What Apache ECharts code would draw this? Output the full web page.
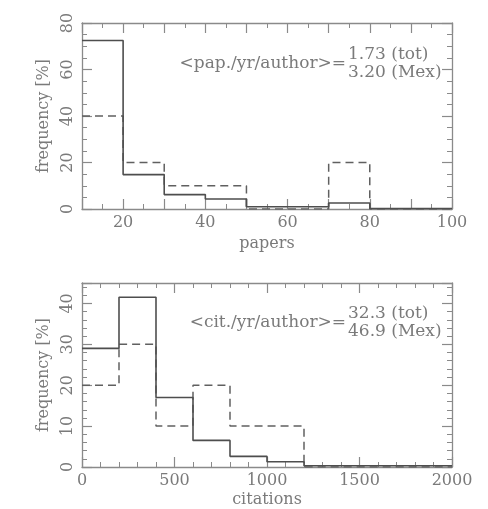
<!DOCTYPE html>
<html>
<head>
<meta charset="utf-8">
<script src="https://cdn.jsdelivr.net/npm/echarts@6/dist/echarts.min.js"></script>
<style>
html,body{margin:0;padding:0;background:#fff;}
#chart{width:488px;height:509px;}
</style>
</head>
<body>
<div id="chart"></div>
<script>
// ---- data ----
const papersEdges = [10, 20, 30, 40, 50, 60, 70, 80, 90, 100];
const papersTot   = [72.5, 14.8, 6.2, 4.3, 1.0, 1.0, 2.6, 0.2, 0.2];
const papersMex   = [40, 20, 10, 10, 0, 0, 20, 0, 0];
const papersTicks = [20, 40, 60, 80, 100];

const citEdges = [0, 200, 400, 600, 800, 1000, 1200, 1400, 1600, 1800, 2000];
const citTot   = [29, 41.5, 17, 6.5, 2.6, 1.3, 0.3, 0.3, 0.3, 0.3];
const citMex   = [20, 30, 10, 20, 10, 10, 0, 0, 0, 0];
const citTicks = [0, 500, 1000, 1500, 2000];

const papersNote = ['<pap./yr/author>=', '1.73 (tot)', '3.20 (Mex)'];
const citNote    = ['<cit./yr/author>=', '32.3 (tot)', '46.9 (Mex)'];

// ---- helpers ----
function steps(edges, vals) {
  const pts = [];
  for (let i = 0; i < vals.length; i++) pts.push([edges[i], vals[i]]);
  pts.push([edges[edges.length - 1], vals[vals.length - 1]]);
  return pts;
}
const FONT = 'DejaVu Serif';
const AXC = '#8a8a8a';
const TXT = '#7a7a7a';

function baseAxis(grid, min, max, interval, minorSplit) {
  return {
    type: 'value', gridIndex: grid, min: min, max: max, interval: interval,
    splitLine: {show: false},
    axisLine: {show: true, onZero: false, lineStyle: {color: AXC, width: 1.3}},
    axisTick: {show: true, inside: true, length: 10, lineStyle: {color: AXC, width: 1.2}},
    minorTick: {show: true, splitNumber: minorSplit, length: 5, lineStyle: {color: AXC, width: 1}},
    axisLabel: {show: false}
  };
}
function xAxes(grid, min, max, interval, minorSplit, labels, name, nameGap) {
  const bottom = Object.assign(baseAxis(grid, min, max, interval, minorSplit), {
    position: 'bottom',
    name: name, nameLocation: 'middle', nameGap: nameGap,
    nameTextStyle: {fontFamily: FONT, fontSize: 16, color: TXT},
    axisLabel: {show: true, fontFamily: FONT, fontSize: 16, color: TXT, margin: 6,
      formatter: function (v) { return labels.indexOf(v) >= 0 ? String(v) : ''; }}
  });
  const top = Object.assign(baseAxis(grid, min, max, interval, minorSplit), {position: 'top'});
  return [bottom, top];
}
function yAxes(grid, min, max, interval, minorSplit, name) {
  const left = Object.assign(baseAxis(grid, min, max, interval, minorSplit), {
    position: 'left',
    name: name, nameLocation: 'middle', nameGap: 26, nameRotate: 90,
    nameTextStyle: {fontFamily: FONT, fontSize: 16, color: TXT},
    axisLabel: {show: true, rotate: 90, fontFamily: FONT, fontSize: 16, color: TXT, margin: 6,
      showMaxLabel: max % interval === 0}
  });
  const right = Object.assign(baseAxis(grid, min, max, interval, minorSplit), {position: 'right'});
  return [left, right];
}

const xa0 = xAxes(0, 10, 100, 10, 2, papersTicks, 'papers', 27);
const xa1 = xAxes(1, 0, 2000, 500, 5, citTicks, 'citations', 25);
const ya0 = yAxes(0, 0, 80, 20, 4, 'frequency [%]');
const ya1 = yAxes(1, 0, 45, 10, 5, 'frequency [%]');

const solid = {type: 'solid', color: '#4e4e4e', width: 1.6};
const dashed = {type: [8, 5], color: '#606060', width: 1.5};

function note(lines, xr, yMid) {
  return [
    {type: 'text', right: 488 - xr, top: yMid - 10,
      style: {text: lines[0], font: '17px "' + FONT + '"', fill: TXT, textAlign: 'right'}},
    {type: 'text', left: xr + 2, top: yMid - 19,
      style: {text: lines[1], font: '17px "' + FONT + '"', fill: TXT}},
    {type: 'text', left: xr + 2, top: yMid - 1,
      style: {text: lines[2], font: '17px "' + FONT + '"', fill: TXT}}
  ];
}

const option = {
  backgroundColor: '#fff',
  animation: false,
  grid: [
    {left: 82, right: 36, top: 23, height: 186},
    {left: 82, right: 36, top: 283, height: 185}
  ],
  xAxis: [xa0[0], xa0[1], xa1[0], xa1[1]],
  yAxis: [ya0[0], ya0[1], ya1[0], ya1[1]],
  series: [
    {type: 'line', xAxisIndex: 0, yAxisIndex: 0, step: 'end', symbol: 'none',
      data: steps(papersEdges, papersMex), lineStyle: dashed, z: 2},
    {type: 'line', xAxisIndex: 0, yAxisIndex: 0, step: 'end', symbol: 'none',
      data: steps(papersEdges, papersTot), lineStyle: solid, z: 3},
    {type: 'line', xAxisIndex: 2, yAxisIndex: 2, step: 'end', symbol: 'none',
      data: steps(citEdges, citMex), lineStyle: dashed, z: 2},
    {type: 'line', xAxisIndex: 2, yAxisIndex: 2, step: 'end', symbol: 'none',
      data: steps(citEdges, citTot), lineStyle: solid, z: 3}
  ],
  graphic: [].concat(note(papersNote, 346, 65), note(citNote, 346, 324))
};

const chart = echarts.init(document.getElementById('chart'), null, {renderer: 'canvas'});
chart.setOption(option);
</script>
</body>
</html>
